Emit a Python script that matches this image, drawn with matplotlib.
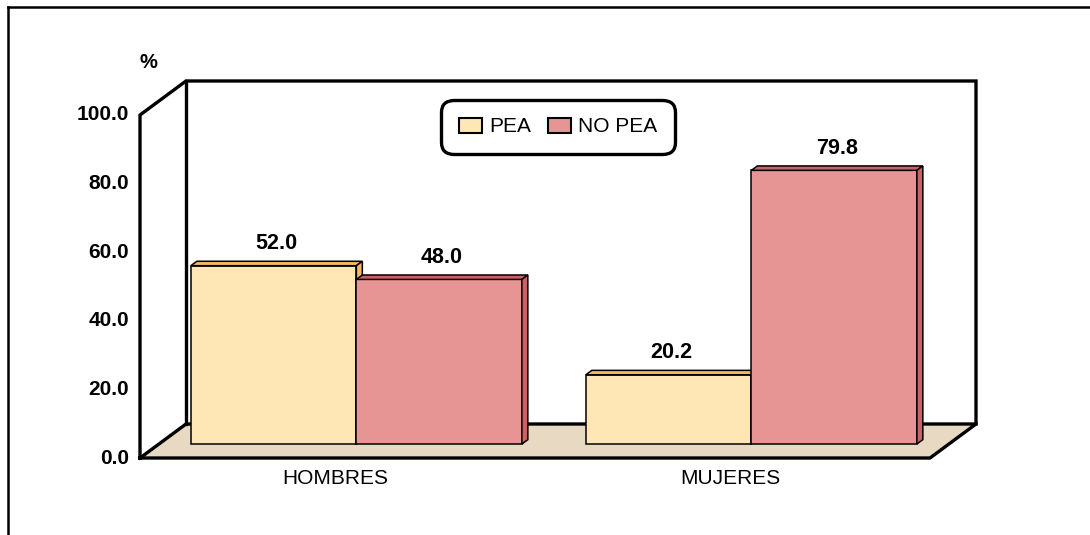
import matplotlib.pyplot as plt
from matplotlib.patches import Polygon, Rectangle, Patch
from matplotlib.lines import Line2D

plt.rcParams["font.family"] = ["Liberation Sans", "DejaVu Sans"]

categories = ["HOMBRES", "MUJERES"]
series = ["PEA", "NO PEA"]
pea = [52.0, 20.2]
no_pea = [48.0, 79.8]
yticks = [0, 20, 40, 60, 80, 100]

front_colors = ["#FFE6B4", "#E69594"]
shade_colors = ["#F5B766", "#CF5E66"]
floor_color = "#E8D9C2"

W, H = 1090, 535
fig = plt.figure(figsize=(W / 100, H / 100), dpi=100)
ax = fig.add_axes([0, 0, 1, 1])

# pixels per data unit (category axis / value axis)
px_x = 395.0
px_y = 3.43
ax.set_xlim(-0.5 - 140 / px_x, 1.5 + (W - 930) / px_x)
ax.set_ylim(-(H - 458) / px_y, 100 + 115 / px_y)
ax.axis("off")

x0, x1 = -0.5, len(categories) - 0.5
ymax = yticks[-1]
DX, DY = 46 / px_x, 34 / px_y  # depth of the 3d box

# walls and floor
ax.add_patch(Polygon([(x0 + DX, DY), (x1 + DX, DY), (x1 + DX, ymax + DY), (x0 + DX, ymax + DY)],
                     facecolor="white", edgecolor="none", zorder=1))
ax.add_patch(Polygon([(x0, 0), (x1, 0), (x1 + DX, DY), (x0 + DX, DY)],
                     facecolor=floor_color, edgecolor="none", zorder=1))
edges = [
    [(x0, 0), (x0, ymax), (x0 + DX, ymax + DY), (x1 + DX, ymax + DY), (x1 + DX, DY), (x1, 0), (x0, 0)],
    [(x0, 0), (x0 + DX, DY), (x1 + DX, DY)],
    [(x0 + DX, DY), (x0 + DX, ymax + DY)],
]
for pts in edges:
    xs, ys = zip(*pts)
    ax.plot(xs, ys, color="black", lw=2.4, solid_joinstyle="miter", zorder=2)

# bars
bw = 0.419
s0, sd = 0.41, 0.13
for i, cat in enumerate(categories):
    for j, vals in enumerate([pea, no_pea]):
        v = vals[i]
        xl = i - bw + j * bw + s0 * DX
        xr = xl + bw
        b = s0 * DY
        t = b + v
        ddx, ddy = sd * DX, sd * DY
        z = 3 + i * 2 + j
        ax.add_patch(Rectangle((xl, b), bw, v, facecolor=front_colors[j],
                               edgecolor="black", lw=1.1, zorder=z))
        ax.add_patch(Polygon([(xl, t), (xr, t), (xr + ddx, t + ddy), (xl + ddx, t + ddy)],
                             facecolor=shade_colors[j], edgecolor="black", lw=1.1, zorder=z))
        ax.add_patch(Polygon([(xr, b), (xr, t), (xr + ddx, t + ddy), (xr + ddx, b + ddy)],
                             facecolor=shade_colors[j], edgecolor="black", lw=1.1, zorder=z))
        ax.annotate(f"{v:.1f}", (xl + bw / 2 + ddx / 2, t + ddy), xytext=(0, 5),
                    textcoords="offset points", ha="center", va="bottom",
                    fontsize=15.5, fontweight="bold", zorder=10)

# value axis labels
for yt in yticks:
    ax.text(x0 - 11 / px_x, yt, f"{yt:.1f}", ha="right", va="center",
            fontsize=15, fontweight="bold")
ax.text(x0 + 8 / px_x, ymax + 53 / px_y, "%", ha="center", va="center",
        fontsize=14.5, fontweight="bold")

# category labels
for i, cat in enumerate(categories):
    ax.text(i - 2 / px_x, -20 / px_y, cat, ha="center", va="center", fontsize=15)

# outer frame
ax.add_line(Line2D([8 / W, 1], [1 - 7 / H, 1 - 7 / H], transform=ax.transAxes,
                   color="black", lw=1.8))
ax.add_line(Line2D([8 / W, 8 / W], [0, 1 - 7 / H], transform=ax.transAxes,
                   color="black", lw=1.8))

handles = [Patch(facecolor=front_colors[k], edgecolor="black", lw=1.5, label=series[k])
           for k in range(len(series))]
leg = fig.legend(handles=handles, loc="center", bbox_to_anchor=(558 / W, 1 - 127 / H),
                 ncol=2, fontsize=15, frameon=True, fancybox=True,
                 handlelength=1.1, handleheight=0.75, handletextpad=0.35,
                 columnspacing=0.8, borderpad=0.85, borderaxespad=0)
frame = leg.get_frame()
frame.set_edgecolor("black")
frame.set_linewidth(2.4)
frame.set_alpha(1)
frame.set_boxstyle("round", pad=0, rounding_size=0.6)

fig.savefig("out.png", dpi=100)
